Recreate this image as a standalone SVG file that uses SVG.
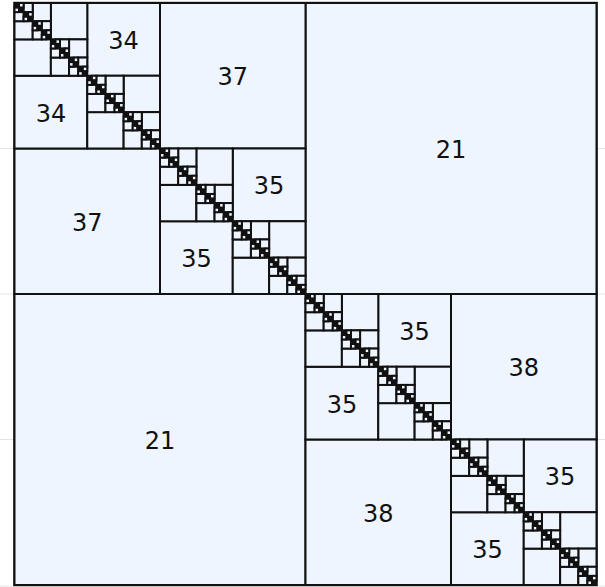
<svg xmlns="http://www.w3.org/2000/svg" xmlns:xlink="http://www.w3.org/1999/xlink" width="605" height="587" viewBox="0 0 605 587">
<style>
.b{fill:#eef5ff;stroke:#111;stroke-width:2}
.d{fill:#111;stroke:#111;stroke-width:1.4}
.g{stroke:#e4e4e4;stroke-width:1}
text{font-family:"DejaVu Sans","Liberation Sans",sans-serif;font-size:24px;fill:#111;text-anchor:middle;dominant-baseline:central}
</style>
<defs>
<g id="D7"><rect class="d" width="4.546875" height="4.546875"/></g>
<g id="D6">
<rect class="b" x="4.546875" y="0" width="4.546875" height="4.546875"/>
<rect class="b" x="0" y="4.546875" width="4.546875" height="4.546875"/>
<use href="#D7"/><use href="#D7" x="4.546875" y="4.546875"/>
</g>
<g id="D5">
<rect class="b" x="9.09375" y="0" width="9.09375" height="9.09375"/>
<rect class="b" x="0" y="9.09375" width="9.09375" height="9.09375"/>
<use href="#D6"/><use href="#D6" x="9.09375" y="9.09375"/>
</g>
<g id="D4">
<rect class="b" x="18.1875" y="0" width="18.1875" height="18.1875"/>
<rect class="b" x="0" y="18.1875" width="18.1875" height="18.1875"/>
<use href="#D5"/><use href="#D5" x="18.1875" y="18.1875"/>
</g>
<g id="D3">
<rect class="b" x="36.375" y="0" width="36.375" height="36.375"/>
<rect class="b" x="0" y="36.375" width="36.375" height="36.375"/>
<use href="#D4"/><use href="#D4" x="36.375" y="36.375"/>
</g>
</defs>
<g id="grid">
<line class="g" x1="0" y1="148.5" x2="605" y2="148.5"/>
<line class="g" x1="0" y1="294" x2="605" y2="294"/>
<line class="g" x1="0" y1="439.5" x2="605" y2="439.5"/>
<line class="g" x1="0" y1="586" x2="605" y2="586"/>
</g>
<g id="outer"><rect class="b" x="14.5" y="3" width="582" height="582" style="stroke-width:2.4"/></g>
<g id="b21a"><rect class="b" x="305.5" y="3" width="291" height="291"/><text x="451" y="150">21</text></g>
<g id="b21b"><rect class="b" x="14.5" y="294" width="291" height="291"/><text x="160" y="441">21</text></g>
<g id="b37a"><rect class="b" x="160" y="3" width="145.5" height="145.5"/><text x="232.75" y="77">37</text></g>
<g id="b37b"><rect class="b" x="14.5" y="148.5" width="145.5" height="145.5"/><text x="87.25" y="222.5">37</text></g>
<g id="b38a"><rect class="b" x="451" y="294" width="145.5" height="145.5"/><text x="523.75" y="368">38</text></g>
<g id="b38b"><rect class="b" x="305.5" y="439.5" width="145.5" height="145.5"/><text x="378.25" y="513.5">38</text></g>
<g id="b34a"><rect class="b" x="87.25" y="3" width="72.75" height="72.75"/><text x="123.6" y="41">34</text></g>
<g id="b34b"><rect class="b" x="14.5" y="75.75" width="72.75" height="72.75"/><text x="50.9" y="113.5">34</text></g>
<g id="b35a"><rect class="b" x="232.75" y="148.5" width="72.75" height="72.75"/><text x="269.1" y="186.3">35</text></g>
<g id="b35b"><rect class="b" x="160" y="221.25" width="72.75" height="72.75"/><text x="196.4" y="259">35</text></g>
<g id="b35c"><rect class="b" x="378.25" y="294" width="72.75" height="72.75"/><text x="414.6" y="331.8">35</text></g>
<g id="b35d"><rect class="b" x="305.5" y="366.75" width="72.75" height="72.75"/><text x="341.9" y="404.5">35</text></g>
<g id="b35e"><rect class="b" x="523.75" y="439.5" width="72.75" height="72.75"/><text x="560.1" y="477.3">35</text></g>
<g id="b35f"><rect class="b" x="451" y="512.25" width="72.75" height="72.75"/><text x="487.4" y="550">35</text></g>
<g id="diag">
<use href="#D3" x="14.5" y="3"/>
<use href="#D3" x="87.25" y="75.75"/>
<use href="#D3" x="160" y="148.5"/>
<use href="#D3" x="232.75" y="221.25"/>
<use href="#D3" x="305.5" y="294"/>
<use href="#D3" x="378.25" y="366.75"/>
<use href="#D3" x="451" y="439.5"/>
<use href="#D3" x="523.75" y="512.25"/>
</g>
</svg>
